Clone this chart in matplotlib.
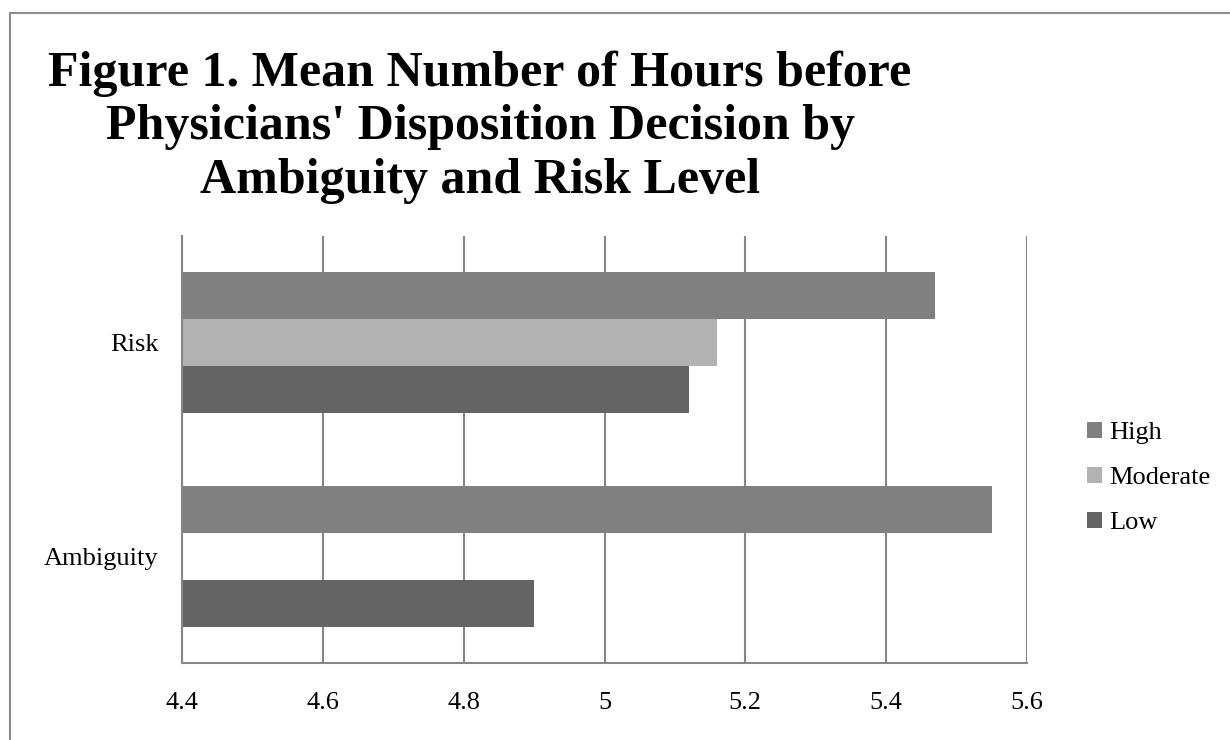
import matplotlib.pyplot as plt
import numpy as np
from matplotlib.patches import Rectangle

categories = ['Ambiguity', 'Risk']
levels = ['High', 'Moderate', 'Low']
high = [5.55, 5.47]
moderate = [np.nan, 5.16]
low = [4.90, 5.12]
colors = ['#808080', '#b2b2b2', '#646464']

plt.rcParams['font.family'] = ['Liberation Serif', 'DejaVu Serif']

fig = plt.figure(figsize=(12.3, 7.4), dpi=100)
W, H = 1230, 740
ax = fig.add_axes([182 / W, 1 - 663 / H, (1027 - 182) / W, (663 - 236) / H])

# outer chart border
fig.patches.append(Rectangle((10 / W, -0.05), 1.2, 1 - 13 / H + 0.05,
                             transform=fig.transFigure, fill=False,
                             edgecolor='#8c8c8c', linewidth=1.5))

y = np.arange(len(categories))
h = 0.22
for i, (vals, lab) in enumerate(zip([high, moderate, low], levels)):
    ax.barh(y + (1 - i) * h, np.array(vals) - 4.4, left=4.4, height=h,
            color=colors[i], label=lab, zorder=2)

ax.set_xlim(4.4, 5.6)
ax.set_ylim(-0.5, 1.5)
ax.set_xticks(np.arange(4.4, 5.61, 0.2))
ax.set_xticklabels(['4.4', '4.6', '4.8', '5', '5.2', '5.4', '5.6'])
ax.set_yticks(y)
ax.set_yticklabels(categories)
ax.grid(axis='x', color='#868686', linewidth=1.5, zorder=0)
for s in ['top', 'right']:
    ax.spines[s].set_visible(False)
for s in ['left', 'bottom']:
    ax.spines[s].set_color('#868686')
    ax.spines[s].set_linewidth(1.5)
ax.tick_params(length=0, labelsize=19)
ax.tick_params(axis='x', pad=21)
ax.tick_params(axis='y', pad=17)

handles, labels = ax.get_legend_handles_labels()
fig.legend(handles, labels, loc='center left', bbox_to_anchor=(1087 / W, 1 - 478 / H),
           frameon=False, fontsize=19, handlelength=0.57, handleheight=0.57,
           handletextpad=0.27, labelspacing=0.85, borderpad=0, borderaxespad=0)

fig.text(480 / W, 1 - 127 / H,
         "Figure 1. Mean Number of Hours before\nPhysicians' Disposition Decision by\nAmbiguity and Risk Level",
         ha='center', va='center', fontsize=36, fontweight='bold', linespacing=1.22)

fig.savefig('out.png', dpi=100)
